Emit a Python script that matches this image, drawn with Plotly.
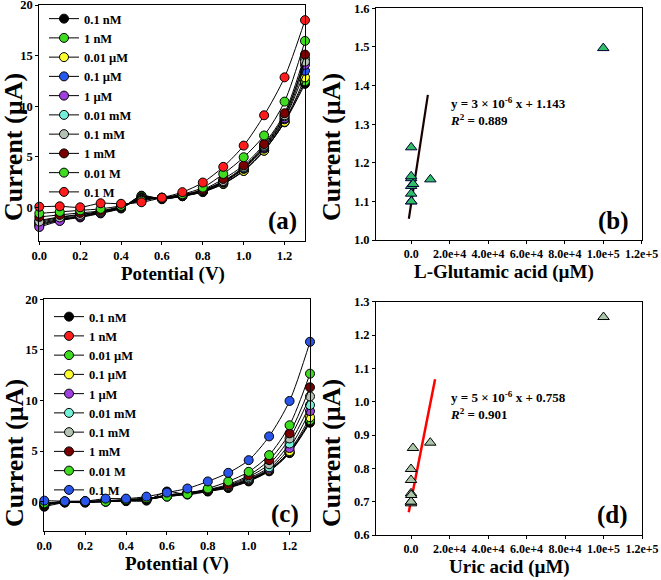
import plotly.graph_objects as go

# ---------------- data ----------------
potential = [0.0, 0.1, 0.2, 0.3, 0.4, 0.5, 0.6, 0.7, 0.8, 0.9, 1.0, 1.1, 1.2, 1.3]

labels_a = ["0.1 nM", "1 nM", "0.01 µM", "0.1 µM", "1 µM", "0.01 mM", "0.1 mM", "1 mM", "0.01 M", "0.1 M"]
colors_a = ["#000000", "#3ddc1e", "#ffff30", "#2458ee", "#a040e0", "#72f0d8", "#b4c2b4", "#7a0000", "#3ddc1e", "#ff1c1c"]
a_01nM = [-1.8, -1.3, -1.0, -0.6, -0.1, 1.15, 0.8, 1.1, 1.5, 2.3, 3.6, 5.6, 8.4, 12.2]
a_1nM = [-1.6, -1.2, -0.9, -0.5, -0.05, 1.1, 0.85, 1.1, 1.55, 2.35, 3.65, 5.65, 8.5, 12.45]
a_001uM = [-1.7, -1.25, -0.95, -0.55, -0.1, 1.0, 0.85, 1.1, 1.55, 2.35, 3.6, 5.6, 8.45, 12.85]
a_01uM = [-1.5, -1.1, -0.85, -0.5, 0.0, 0.95, 0.85, 1.15, 1.6, 2.45, 3.8, 5.8, 8.7, 13.5]
a_1uM = [-1.95, -1.35, -0.9, -0.55, -0.05, 0.9, 0.9, 1.15, 1.6, 2.5, 3.85, 5.9, 8.8, 14.1]
a_001mM = [-1.3, -0.95, -0.7, -0.4, 0.0, 0.85, 0.9, 1.2, 1.65, 2.55, 3.9, 6.0, 9.0, 14.7]
a_01mM = [-1.4, -1.0, -0.75, -0.45, 0.05, 0.8, 0.9, 1.2, 1.7, 2.6, 4.0, 6.1, 9.1, 14.4]
a_1mM = [-0.95, -0.75, -0.55, -0.35, 0.1, 0.75, 0.95, 1.25, 1.75, 2.8, 4.15, 6.25, 9.3, 15.1]
a_001M = [-0.6, -0.45, -0.3, -0.15, 0.15, 0.65, 0.95, 1.3, 1.95, 3.3, 4.95, 7.1, 10.45, 16.45]
a_01M = [0.06, 0.1, 0.0, 0.4, 0.35, 0.5, 0.95, 1.5, 2.45, 4.0, 6.1, 9.1, 12.85, 18.5]
series_a = [a_01nM, a_1nM, a_001uM, a_01uM, a_1uM, a_001mM, a_01mM, a_1mM, a_001M, a_01M]

labels_c = ["0.1 nM", "1 nM", "0.01 µM", "0.1 µM", "1 µM", "0.01 mM", "0.1 mM", "1 mM", "0.01 M", "0.1 M"]
colors_c = ["#000000", "#ff1c1c", "#3ddc1e", "#ffff30", "#a040e0", "#72f0d8", "#b4c2b4", "#7a0000", "#3ddc1e", "#2a55ea"]
c_01nM = [-0.5, -0.1, -0.1, 0.0, 0.05, 0.1, 1.0, 0.7, 1.0, 1.35, 2.0, 3.0, 4.8, 7.8]
c_1nM = [-0.35, -0.05, -0.05, 0.05, 0.1, 0.2, 0.55, 0.75, 1.05, 1.4, 2.05, 3.05, 4.85, 7.95]
c_001uM = [-0.3, -0.05, -0.05, 0.0, 0.1, 0.25, 0.5, 0.75, 1.05, 1.45, 2.1, 3.1, 4.9, 8.05]
c_01uM = [-0.3, -0.05, 0.0, 0.05, 0.1, 0.2, 0.55, 0.8, 1.1, 1.5, 2.15, 3.15, 5.0, 8.35]
c_1uM = [-0.25, -0.05, 0.0, 0.05, 0.15, 0.2, 0.6, 0.8, 1.1, 1.5, 2.2, 3.25, 5.3, 8.95]
c_001mM = [-0.25, 0.0, 0.0, 0.1, 0.15, 0.25, 0.6, 0.85, 1.15, 1.55, 2.3, 3.4, 5.75, 9.55]
c_01mM = [-0.2, 0.0, 0.0, 0.1, 0.15, 0.3, 0.65, 0.85, 1.15, 1.6, 2.45, 3.7, 6.25, 10.4]
c_1mM = [-0.2, 0.0, 0.05, 0.1, 0.2, 0.3, 0.65, 0.9, 1.2, 1.7, 2.6, 4.1, 6.75, 11.3]
c_001M = [-0.15, 0.0, 0.0, 0.0, 0.2, 0.35, 0.5, 0.75, 1.3, 2.0, 2.95, 4.6, 7.55, 12.65]
c_01M = [0.1, 0.05, 0.05, 0.3, 0.3, 0.5, 0.9, 1.3, 2.0, 2.85, 4.1, 6.45, 9.95, 15.8]
series_c = [c_01nM, c_1nM, c_001uM, c_01uM, c_1uM, c_001mM, c_01mM, c_1mM, c_001M, c_01M]

conc_uM = [1e-4, 1e-3, 1e-2, 0.1, 1, 10, 100, 1000, 1e4, 1e5]
glu_current = [1.10, 1.12, 1.14, 1.16, 1.165, 1.24, 1.10, 1.145, 1.157, 1.497]
glu_fit_x = [-1200, 8700]
glu_fit_y = [1.055, 1.376]
uric_current = [0.695, 0.70, 0.725, 0.765, 0.798, 0.70, 0.72, 0.861, 0.877, 1.254]
uric_fit_x = [-1200, 12500]
uric_fit_y = [0.668, 1.067]

conc_ticks = [0, 2e4, 4e4, 6e4, 8e4, 1e5, 1.2e5]
conc_ticktext = ["0.0", "2.0e+4", "4.0e+4", "6.0e+4", "8.0e+4", "1.0e+5", "1.2e+5"]

# ---------------- figure ----------------
FONT = "Liberation Serif, Times New Roman, serif"
fig = go.Figure()

for lab, col, ys in zip(labels_a, colors_a, series_a):
    fig.add_trace(go.Scatter(
        x=potential, y=ys, name=lab, mode="lines+markers",
        line=dict(color="black", width=1, shape="spline", smoothing=0.8),
        marker=dict(color=col, size=9, line=dict(color="black", width=1)),
        xaxis="x", yaxis="y", legend="legend", cliponaxis=False))

for lab, col, ys in zip(labels_c, colors_c, series_c):
    fig.add_trace(go.Scatter(
        x=potential, y=ys, name=lab, mode="lines+markers",
        line=dict(color="black", width=1, shape="spline", smoothing=0.8),
        marker=dict(color=col, size=9, line=dict(color="black", width=1)),
        xaxis="x3", yaxis="y3", legend="legend2", cliponaxis=False))

fig.add_trace(go.Scatter(x=glu_fit_x, y=glu_fit_y, mode="lines",
                         line=dict(color="#1a0000", width=2.2),
                         xaxis="x2", yaxis="y2", showlegend=False))
fig.add_trace(go.Scatter(x=conc_uM, y=glu_current, mode="markers",
                         marker=dict(symbol="triangle-up", size=10, color="#2fbf66",
                                     line=dict(color="#000033", width=1)),
                         xaxis="x2", yaxis="y2", showlegend=False, cliponaxis=False))
fig.add_trace(go.Scatter(x=uric_fit_x, y=uric_fit_y, mode="lines",
                         line=dict(color="#ff0000", width=2.5),
                         xaxis="x4", yaxis="y4", showlegend=False))
fig.add_trace(go.Scatter(x=conc_uM, y=uric_current, mode="markers",
                         marker=dict(symbol="triangle-up", size=10, color="#a9c6a9",
                                     line=dict(color="black", width=1)),
                         xaxis="x4", yaxis="y4", showlegend=False, cliponaxis=False))

tickfont = dict(family=FONT, size=12.5, color="black", weight="bold")
tickfont_conc = dict(family=FONT, size=12, color="black", weight="bold")
axbase = dict(showline=True, mirror=True, linecolor="black", linewidth=1,
              ticks="outside", ticklen=3, tickcolor="black", showgrid=False,
              zeroline=False, automargin=False, ticklabeloverflow="allow", tickangle=0)

W, H = 661, 580
def px(x0, x1):
    return [x0 / W, x1 / W]
def py(y0, y1):
    return [1 - y1 / H, 1 - y0 / H]

fig.update_layout(
    width=W, height=H, margin=dict(l=0, r=0, t=0, b=0, autoexpand=False),
    paper_bgcolor="white", plot_bgcolor="white",
    font=dict(family=FONT, color="black"),
    xaxis=dict(domain=px(39.3, 305), range=[0, 1.3], tickvals=[0, 0.2, 0.4, 0.6, 0.8, 1.0, 1.2],
               tickformat=".1f", anchor="y", tickfont=tickfont, **axbase),
    yaxis=dict(domain=py(5, 241), range=[-3.33, 20], tickvals=[0, 5, 10, 15, 20],
               anchor="x", tickfont=tickfont, **axbase),
    xaxis2=dict(domain=px(376, 641.7), range=[-1.83e4, 1.2e5], tickvals=conc_ticks,
                ticktext=conc_ticktext, anchor="y2", tickfont=tickfont_conc, **axbase),
    yaxis2=dict(domain=py(8.3, 240), range=[1.0, 1.6], dtick=0.1, tickformat=".1f",
                anchor="x2", tickfont=tickfont, **axbase),
    xaxis3=dict(domain=px(44.3, 310), range=[0, 1.3], tickvals=[0, 0.2, 0.4, 0.6, 0.8, 1.0, 1.2],
                tickformat=".1f", anchor="y3", tickfont=tickfont, **axbase),
    yaxis3=dict(domain=py(299.3, 531), range=[-2.9, 20], tickvals=[0, 5, 10, 15, 20],
                anchor="x3", tickfont=tickfont, **axbase),
    xaxis4=dict(domain=px(376, 642), range=[-1.82e4, 1.2e5], tickvals=conc_ticks,
                ticktext=conc_ticktext, anchor="y4", tickfont=tickfont_conc, **axbase),
    yaxis4=dict(domain=py(301.7, 535), range=[0.6, 1.3], dtick=0.1, tickformat=".1f",
                anchor="x4", tickfont=tickfont, **axbase),
    legend=dict(x=44 / W, y=1 - 4 / H, xanchor="left", yanchor="top",
                bgcolor="rgba(0,0,0,0)", font=dict(family=FONT, size=12.5, weight="bold"),
                itemwidth=30, tracegroupgap=0),
    legend2=dict(x=49 / W, y=1 - 302 / H, xanchor="left", yanchor="top",
                 bgcolor="rgba(0,0,0,0)", font=dict(family=FONT, size=12.5, weight="bold"),
                 itemwidth=30, tracegroupgap=0),
)

def ann(text, x, y, size, angle=0, xanchor="center"):
    fig.add_annotation(text=text, x=x / W, y=1 - y / H, xref="paper", yref="paper",
                       showarrow=False, textangle=angle, xanchor=xanchor, yanchor="middle",
                       font=dict(family=FONT, size=size, color="black", weight="bold"))

# axis titles
ann("Current (µA)", 13, 147, 26, -90)
ann("Current (µA)", 331, 147, 26, -90)
ann("Current (µA)", 14, 453, 26, -90)
ann("Current (µA)", 331, 453, 26, -90)
ann("Potential (V)", 172.5, 274, 19)
ann("L-Glutamic acid (µM)", 504, 272, 19)
ann("Potential (V)", 177, 564, 19)
ann("Uric acid (µM)", 509, 567, 19)
# panel letters
ann("(a)", 282, 221, 25)
ann("(b)", 613, 221, 25)
ann("(c)", 285, 514, 25)
ann("(d)", 612, 515, 25)
# equations
fig.add_annotation(text="y = 3 × 10<sup>-6</sup> x + 1.143<br><i>R</i><sup>2</sup> = 0.889",
                   x=448 / W, y=1 - 112 / H, xref="paper", yref="paper", showarrow=False,
                   xanchor="left", yanchor="middle", align="left",
                   font=dict(family=FONT, size=13, color="black", weight="bold"))
fig.add_annotation(text="y = 5 × 10<sup>-6</sup> x + 0.758<br><i>R</i><sup>2</sup> = 0.901",
                   x=448 / W, y=1 - 405 / H, xref="paper", yref="paper", showarrow=False,
                   xanchor="left", yanchor="middle", align="left",
                   font=dict(family=FONT, size=13, color="black", weight="bold"))

fig.write_html("out.html", config={"displayModeBar": False},
               post_script="document.body.style.margin='0';document.body.style.padding='0';")
